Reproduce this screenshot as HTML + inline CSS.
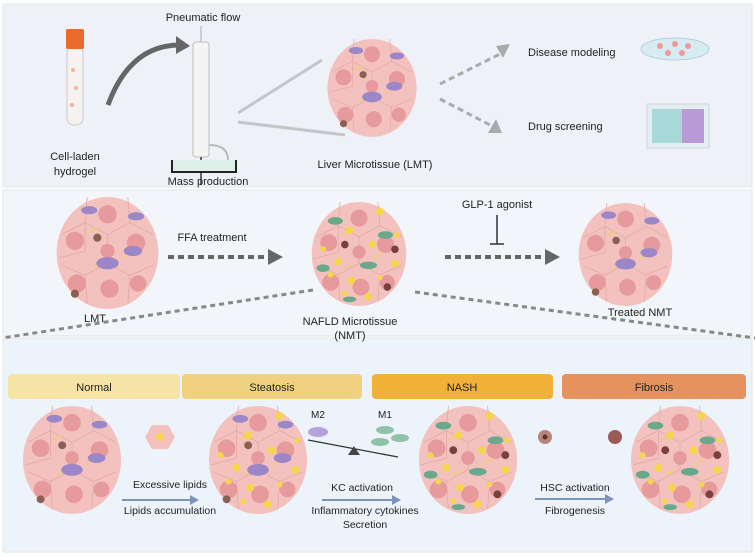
<!DOCTYPE html>
<html><head><meta charset="utf-8"><style>
html,body{margin:0;padding:0;background:#fff;}
svg{display:block;font-family:"Liberation Sans",sans-serif;}
</style></head><body>
<svg width="755" height="557" viewBox="0 0 755 557" xmlns="http://www.w3.org/2000/svg">
<defs>
<symbol id="t" viewBox="-50 -55 100 110" overflow="visible">
<ellipse cx="0" cy="0" rx="50" ry="55" fill="#f3c2be"/>
<g stroke="#e2a8a6" stroke-width="0.8" fill="none">
<path d="M-20,-55 L-22,-30 L0,-18 L22,-30 L20,-55 M-22,-30 L-45,-18 M22,-30 L45,-18 M0,-18 L0,10 L-22,22 L-45,12 M0,10 L22,22 L45,12 M-22,22 L-20,50 M22,22 L20,50 M-22,-30 L-22,-2 L-48,5"/>
</g>
<g fill="#e79a9c"><circle cx="0" cy="-38" r="9"/><circle cx="-32" cy="-12" r="9"/><circle cx="28" cy="-10" r="9"/><circle cx="-30" cy="30" r="9"/><circle cx="2" cy="35" r="9"/><circle cx="30" cy="30" r="8"/><circle cx="0" cy="-2" r="7"/></g>
<g stroke="#f0cc82" stroke-width="2"><path d="M-20,-20 L-10,-25 M15,5 L25,-2 M-15,15 L-5,10"/></g>
</symbol>
<symbol id="cells" viewBox="-50 -55 100 110" overflow="visible">
<g fill="#9b86c8"><ellipse cx="-18" cy="-42" rx="8" ry="4"/><ellipse cx="28" cy="-36" rx="8" ry="4"/><ellipse cx="0" cy="10" rx="11" ry="6"/><ellipse cx="25" cy="-2" rx="9" ry="5"/></g>
<g fill="#8a6050"><circle cx="-10" cy="-15" r="4"/><circle cx="-32" cy="40" r="4"/></g>
</symbol>
<symbol id="lip" viewBox="-50 -55 100 110" overflow="visible">
<g fill="#f5d54a"><circle cx="22" cy="-45" r="4"/><circle cx="-10" cy="-25" r="4"/><circle cx="-38" cy="-5" r="3"/><circle cx="14" cy="-10" r="4"/><circle cx="-22" cy="8" r="4"/><circle cx="38" cy="10" r="4"/><circle cx="-8" cy="28" r="4"/><circle cx="22" cy="25" r="3"/><circle cx="-30" cy="22" r="3"/><circle cx="10" cy="45" r="4"/><circle cx="-15" cy="42" r="3"/><circle cx="40" cy="-20" r="3"/></g>
</symbol>
<symbol id="green" viewBox="-50 -55 100 110" overflow="visible">
<g fill="#6aa88c"><ellipse cx="-25" cy="-35" rx="8" ry="4"/><ellipse cx="28" cy="-20" rx="8" ry="4"/><ellipse cx="-38" cy="15" rx="7" ry="4"/><ellipse cx="10" cy="12" rx="9" ry="4"/><ellipse cx="-10" cy="48" rx="7" ry="3"/></g>
<g fill="#7a4040"><circle cx="-15" cy="-10" r="4"/><circle cx="30" cy="35" r="4"/><circle cx="38" cy="-5" r="4"/></g>
</symbol>
</defs>
<rect width="755" height="557" fill="#fff"/>
<rect x="3" y="4" width="749" height="183" fill="#eef2f8" stroke="#e2e4e8"/>
<rect x="3" y="190" width="749" height="146" fill="#f2f5fa" stroke="#e2e4e8"/>
<rect x="3" y="338" width="749" height="214" fill="#edf3fb" stroke="#e2e4e8"/>

<!-- top -->
<rect x="67" y="45" width="16" height="80" rx="7" fill="#f6f2ef" stroke="#c9c9cc"/>
<rect x="66" y="29" width="18" height="20" rx="2" fill="#e86a2c"/>
<g fill="#f3b49c"><circle cx="73" cy="70" r="2"/><circle cx="76" cy="88" r="2"/><circle cx="72" cy="105" r="2"/></g>
<path d="M108,105 Q130,45 180,45" fill="none" stroke="#666" stroke-width="5"/>
<path d="M176,36 L190,46 L176,54 Z" fill="#666"/>
<text x="203" y="21" font-size="11" text-anchor="middle" fill="#222">Pneumatic flow</text>
<line x1="201" y1="26" x2="201" y2="42" stroke="#aaa"/>
<rect x="193" y="42" width="16" height="115" rx="3" fill="#f4f4f2" stroke="#bbb"/>
<path d="M209,145 Q228,145 228,160" fill="none" stroke="#bbb" stroke-width="2"/>
<line x1="201" y1="157" x2="201" y2="185" stroke="#666" stroke-width="2"/>
<path d="M172,160 L172,172 L236,172 L236,160" fill="#dfefea" stroke="#222" stroke-width="2"/>
<text x="208" y="185" font-size="11" text-anchor="middle" fill="#222">Mass production</text>
<text x="75" y="160" font-size="11" text-anchor="middle" fill="#222">Cell-laden</text>
<text x="75" y="175" font-size="11" text-anchor="middle" fill="#222">hydrogel</text>
<line x1="238" y1="113" x2="322" y2="60" stroke="#c5c5c8" stroke-width="3"/>
<line x1="238" y1="122" x2="345" y2="135" stroke="#c5c5c8" stroke-width="3"/>
<use href="#t" x="322" y="39" width="100" height="98"/>
<use href="#cells" x="322" y="39" width="100" height="98"/>
<text x="375" y="168" font-size="11" text-anchor="middle" fill="#222">Liver Microtissue (LMT)</text>
<g stroke="#aaa" stroke-width="3" stroke-dasharray="6,4" fill="none"><line x1="440" y1="84" x2="500" y2="54"/><line x1="440" y1="99" x2="492" y2="126"/></g>
<path d="M496,46 L510,44 L503,58 Z" fill="#aaa"/><path d="M488,133 L502,133 L496,119 Z" fill="#aaa"/>
<text x="528" y="56" font-size="11" fill="#222">Disease modeling</text>
<text x="528" y="130" font-size="11" fill="#222">Drug screening</text>
<ellipse cx="675" cy="49" rx="34" ry="11" fill="#d6ecf2" stroke="#b8d0d8"/>
<g fill="#ef9a96"><circle cx="660" cy="46" r="3"/><circle cx="675" cy="44" r="3"/><circle cx="688" cy="46" r="3"/><circle cx="668" cy="53" r="3"/><circle cx="682" cy="53" r="3"/></g>
<rect x="647" y="104" width="62" height="44" fill="#e4eef0" stroke="#cbd4d8"/>
<rect x="652" y="109" width="52" height="34" fill="#a8d8d8"/>
<rect x="682" y="109" width="22" height="34" fill="#b79ad6"/>

<!-- middle -->
<use href="#t" x="55" y="197" width="105" height="112"/>
<use href="#cells" x="55" y="197" width="105" height="112"/>
<text x="95" y="322" font-size="11" text-anchor="middle" fill="#222">LMT</text>
<text x="212" y="241" font-size="11" text-anchor="middle" fill="#222">FFA treatment</text>
<line x1="168" y1="257" x2="268" y2="257" stroke="#666" stroke-width="4" stroke-dasharray="6,4"/>
<path d="M268,249 L283,257 L268,265 Z" fill="#666"/>
<use href="#t" x="310" y="202" width="98" height="104"/>
<use href="#green" x="310" y="202" width="98" height="104"/>
<use href="#lip" x="310" y="202" width="98" height="104"/>
<text x="350" y="325" font-size="11" text-anchor="middle" fill="#222">NAFLD Microtissue</text>
<text x="350" y="339" font-size="11" text-anchor="middle" fill="#222">(NMT)</text>
<text x="497" y="208" font-size="11" text-anchor="middle" fill="#222">GLP-1 agonist</text>
<line x1="497" y1="215" x2="497" y2="244" stroke="#333" stroke-width="1.5"/><line x1="490" y1="244" x2="504" y2="244" stroke="#333" stroke-width="1.5"/>
<line x1="445" y1="257" x2="545" y2="257" stroke="#666" stroke-width="4" stroke-dasharray="6,4"/>
<path d="M545,249 L560,257 L545,265 Z" fill="#666"/>
<use href="#t" x="578" y="203" width="95" height="103"/>
<use href="#cells" x="578" y="203" width="95" height="103"/>
<text x="640" y="316" font-size="11" text-anchor="middle" fill="#222">Treated NMT</text>
<g stroke="#888" stroke-width="3" stroke-dasharray="5,4"><line x1="313" y1="290" x2="2" y2="338"/><line x1="415" y1="292" x2="755" y2="338"/></g>

<!-- bottom -->
<rect x="8" y="374" width="172" height="25" rx="4" fill="#f6e3a6"/>
<rect x="182" y="374" width="180" height="25" rx="4" fill="#f0d17f"/>
<rect x="372" y="374" width="181" height="25" rx="4" fill="#f1b138"/>
<rect x="562" y="374" width="184" height="25" rx="4" fill="#e6925e"/>
<g font-size="11" text-anchor="middle" fill="#222"><text x="94" y="391">Normal</text><text x="272" y="391">Steatosis</text><text x="462" y="391">NASH</text><text x="654" y="391">Fibrosis</text></g>
<use href="#t" x="22" y="406" width="100" height="108"/><use href="#cells" x="22" y="406" width="100" height="108"/>
<use href="#t" x="208" y="406" width="100" height="108"/><use href="#cells" x="208" y="406" width="100" height="108"/><use href="#lip" x="208" y="406" width="100" height="108"/>
<use href="#t" x="418" y="406" width="100" height="108"/><use href="#green" x="418" y="406" width="100" height="108"/><use href="#lip" x="418" y="406" width="100" height="108"/>
<use href="#t" x="630" y="406" width="100" height="108"/><use href="#green" x="630" y="406" width="100" height="108"/><use href="#lip" x="630" y="406" width="100" height="108"/>
<polygon points="152,425 168,425 175,437 168,449 152,449 145,437" fill="#f3c2be"/><circle cx="160" cy="437" r="4" fill="#f5d54a"/>
<g font-size="10.5" text-anchor="middle" fill="#222">
<text x="170" y="488">Excessive lipids</text><text x="170" y="514">Lipids accumulation</text>
<text x="362" y="491">KC activation</text><text x="365" y="514">Inflammatory cytokines</text><text x="365" y="528">Secretion</text>
<text x="575" y="491">HSC activation</text><text x="575" y="514">Fibrogenesis</text>
</g>
<g stroke="#7d93b8" stroke-width="2"><line x1="122" y1="500" x2="190" y2="500"/><line x1="322" y1="500" x2="392" y2="500"/><line x1="535" y1="499" x2="605" y2="499"/></g>
<g fill="#7d93b8"><path d="M190,495 L199,500 L190,505Z"/><path d="M392,495 L401,500 L392,505Z"/><path d="M605,494 L614,499 L605,504Z"/></g>
<text x="318" y="418" font-size="10" text-anchor="middle" fill="#222">M2</text>
<text x="385" y="418" font-size="10" text-anchor="middle" fill="#222">M1</text>
<ellipse cx="318" cy="432" rx="10" ry="5" fill="#b6a3dc"/>
<ellipse cx="385" cy="430" rx="9" ry="4" fill="#8fc2a8"/><ellipse cx="400" cy="438" rx="9" ry="4" fill="#8fc2a8"/><ellipse cx="380" cy="442" rx="9" ry="4" fill="#8fc2a8"/>
<line x1="308" y1="440" x2="398" y2="457" stroke="#333" stroke-width="1.3"/>
<path d="M348,455 L354,446 L360,455Z" fill="#444"/>
<circle cx="545" cy="437" r="7" fill="#b8857a"/><circle cx="545" cy="437" r="2.5" fill="#5a3030"/>
<circle cx="615" cy="437" r="7" fill="#9a5a58"/>
</svg>
</body></html>
